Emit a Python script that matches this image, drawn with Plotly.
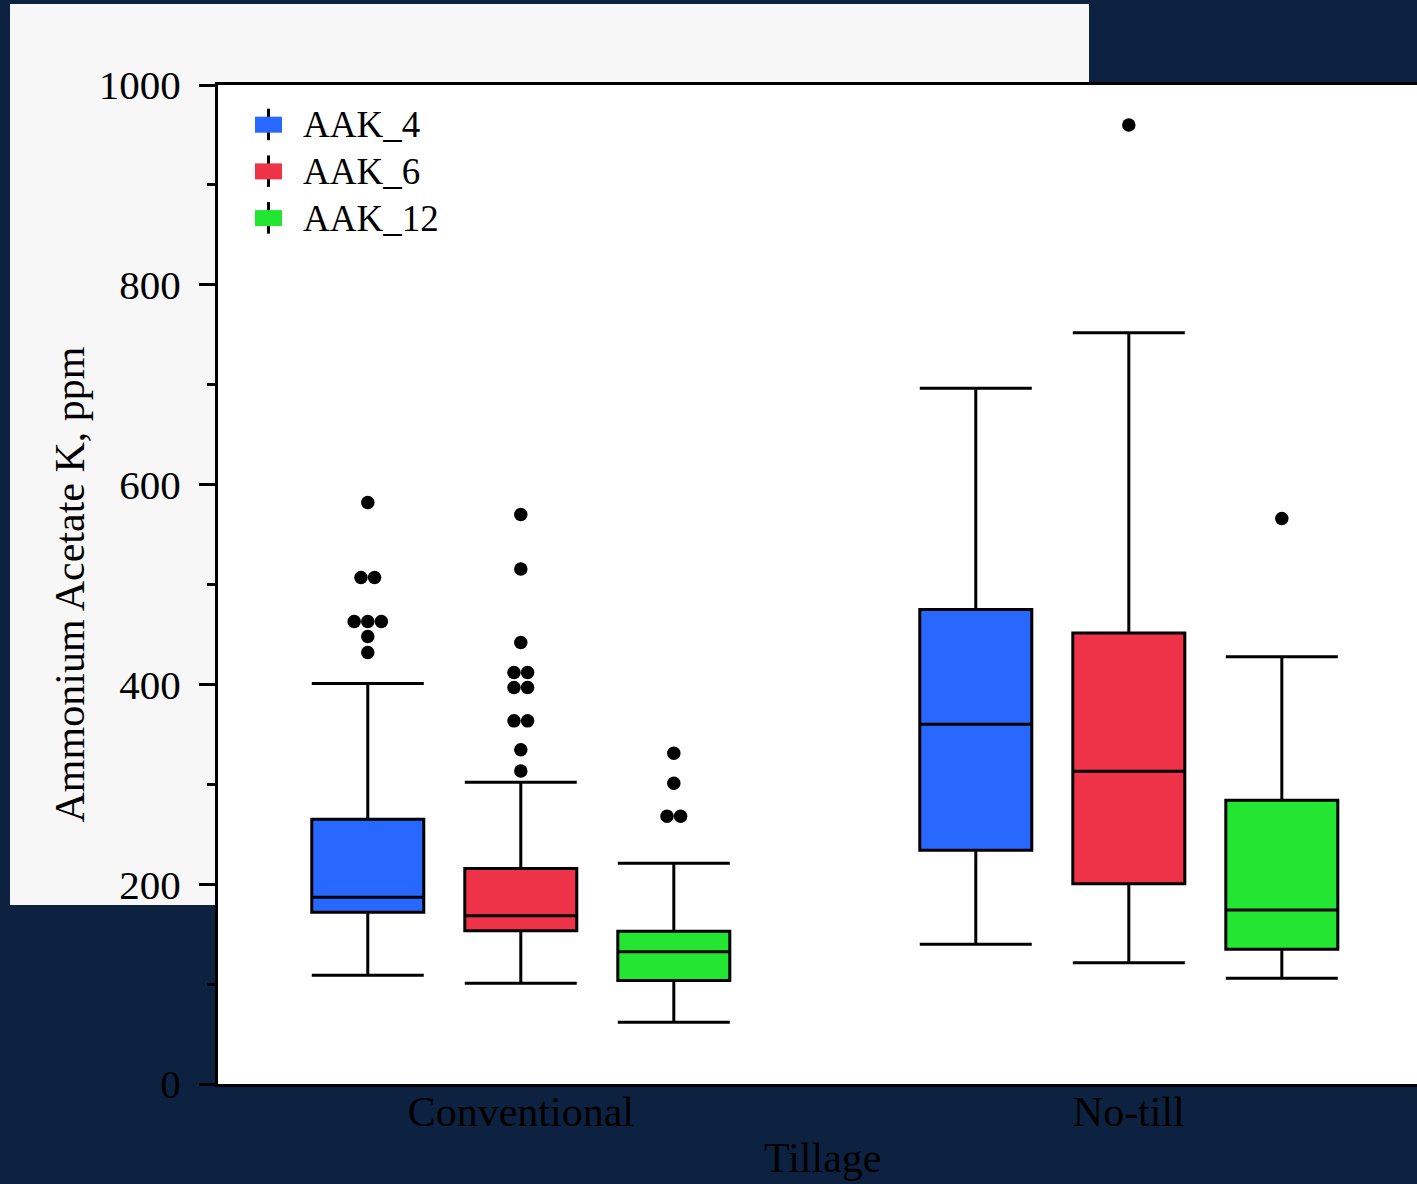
import plotly.graph_objects as go

# ---- data -----------------------------------------------------------------
categories = ["Conventional", "No-till"]
series_names = ["AAK_4", "AAK_6", "AAK_12"]
series_colors = ["#2968FF", "#EE3247", "#22E632"]

# box statistics, one list per series, ordered like `categories`
whisker_low = [[108.8, 139.8], [100.8, 121.4], [61.8, 105.8]]
quart_1 = [[172.0, 234.0], [153.5, 200.5], [103.5, 135.0]]
medians = [[187.0, 360.0], [168.5, 313.0], [132.3, 174.2]]
quart_3 = [[265.0, 475.0], [215.7, 451.5], [152.8, 284.0]]
whisker_high = [[401.0, 696.5], [302.0, 752.0], [221.0, 427.7]]

# outlying samples, one list per series
outliers_conventional = [
    [582, 507, 507, 463, 463, 463, 448, 432],
    [570, 515.5, 442, 412, 412, 397, 397, 363.5, 363.5, 334.5, 313.3],
    [331, 301, 268, 268],
]
outliers_notill = [[], [960], [566]]

y_ticks = [0, 200, 400, 600, 800, 1000]

# ---- layout constants -------------------------------------------------------
FIG_W, FIG_H = 1417, 1184
M_L, M_R, M_T, M_B = 218, 0, 85, 100
BOXGAP, BOXGROUPGAP = 0.245, 0.268
X_RANGE = [-0.498, 1.474]
FONT = "Liberation Serif, Times New Roman, serif"
NAVY, PANEL = "#0D2240", "#F7F7F7"
DOT_PX = 13.6

plot_w = FIG_W - M_L - M_R
plot_h = FIG_H - M_T - M_B
units_per_px = (X_RANGE[1] - X_RANGE[0]) / plot_w


def px_to_paper_x(px):
    return (px - M_L) / plot_w


def px_to_paper_y(py):
    return (FIG_H - M_B - py) / plot_h


fig = go.Figure()

# grouped boxes from the precomputed statistics
for s, name in enumerate(series_names):
    fig.add_trace(go.Box(
        name=name,
        x=categories,
        q1=quart_1[s],
        median=medians[s],
        q3=quart_3[s],
        lowerfence=whisker_low[s],
        upperfence=whisker_high[s],
        boxpoints=False,
        fillcolor=series_colors[s],
        line=dict(color="black", width=3),
        whiskerwidth=1,
        showlegend=False,
        hoverinfo="skip",
    ))

# outliers on an overlaid linear axis, placed at each box's slot and
# spread sideways when several share a value
slot_step = (1 - BOXGAP) / len(series_names)
for s, name in enumerate(series_names):
    xs, ys = [], []
    for c, group in enumerate([outliers_conventional, outliers_notill]):
        vals = group[s]
        centre = c + (s - (len(series_names) - 1) / 2) * slot_step
        counts = {}
        for v in vals:
            counts[v] = counts.get(v, 0) + 1
        for v, k in counts.items():
            for j in range(k):
                xs.append(centre + (j - (k - 1) / 2) * DOT_PX * units_per_px)
                ys.append(v)
    fig.add_trace(go.Scatter(
        x=xs, y=ys, xaxis="x2", mode="markers",
        marker=dict(color="black", size=13.5, line=dict(width=0)),
        showlegend=False, hoverinfo="skip", name=name,
    ))

# light panel behind the axis labels, with the white plotting area over it
shapes = [
    dict(
        type="rect", xref="paper", yref="paper", layer="below",
        x0=px_to_paper_x(10), x1=px_to_paper_x(1089),
        y0=px_to_paper_y(905), y1=px_to_paper_y(4),
        fillcolor=PANEL, line=dict(width=0),
    ),
    dict(
        type="rect", xref="paper", yref="paper", layer="below",
        x0=0, x1=1, y0=0, y1=1,
        fillcolor="white", line=dict(width=0),
    ),
]

# legend: coloured patch crossed by a whisker line
annotations = []
for s, name in enumerate(series_names):
    cy = 124.7 + s * 46.7
    shapes.append(dict(
        type="line", xref="paper", yref="paper",
        x0=px_to_paper_x(268.5), x1=px_to_paper_x(268.5),
        y0=px_to_paper_y(cy - 16), y1=px_to_paper_y(cy + 15.5),
        line=dict(color="black", width=3),
    ))
    shapes.append(dict(
        type="rect", xref="paper", yref="paper",
        x0=px_to_paper_x(255), x1=px_to_paper_x(282),
        y0=px_to_paper_y(cy + 8), y1=px_to_paper_y(cy - 8),
        fillcolor=series_colors[s], line=dict(width=0),
    ))
    annotations.append(dict(
        text=name, xref="paper", yref="paper",
        x=px_to_paper_x(301), y=px_to_paper_y(cy),
        xanchor="left", yanchor="middle", showarrow=False,
        font=dict(family=FONT, size=37, color="black"),
    ))

# x-axis title, centred under the full category span
annotations.append(dict(
    text="Tillage", xref="paper", yref="paper",
    x=px_to_paper_x(822), y=px_to_paper_y(1158),
    xanchor="center", yanchor="middle", showarrow=False,
    font=dict(family=FONT, size=42, color="black"),
))

fig.update_layout(
    width=FIG_W, height=FIG_H,
    margin=dict(l=M_L, r=M_R, t=M_T, b=M_B, autoexpand=False),
    paper_bgcolor=NAVY,
    plot_bgcolor="white",
    boxmode="group",
    boxgap=BOXGAP,
    boxgroupgap=BOXGROUPGAP,
    showlegend=False,
    shapes=shapes,
    annotations=annotations,
    font=dict(family=FONT, color="black"),
    xaxis=dict(
        type="category",
        range=X_RANGE,
        showline=True, linecolor="black", linewidth=3, mirror=True,
        ticks="", showgrid=False, zeroline=False,
        ticklabelstandoff=-11,
        tickfont=dict(family=FONT, size=42, color="black"),
    ),
    xaxis2=dict(
        overlaying="x", range=X_RANGE, visible=False,
        showgrid=False, zeroline=False,
    ),
    yaxis=dict(
        range=[0, 1000],
        tickvals=y_ticks,
        showline=True, linecolor="black", linewidth=3,
        ticks="outside", ticklen=16, tickwidth=3, tickcolor="black",
        minor=dict(dtick=100, ticks="outside", ticklen=8, tickwidth=3, tickcolor="black"),
        showgrid=False, zeroline=False,
        ticklabelstandoff=10,
        tickfont=dict(family=FONT, size=41, color="black"),
        title=dict(text="Ammonium Acetate K, ppm", font=dict(family=FONT, size=42, color="black"), standoff=2),
    ),
)

fig.write_html("out.html")
